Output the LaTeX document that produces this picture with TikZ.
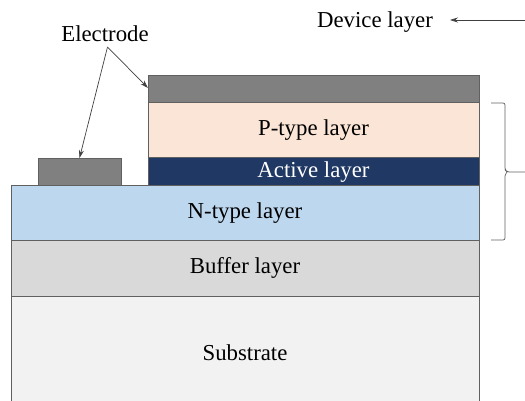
\documentclass[tikz,border=0pt]{standalone}
\usepackage{fontspec}
\setmainfont{Liberation Serif}
\usetikzlibrary{arrows.meta}
\definecolor{elec}{HTML}{808080}
\definecolor{ptype}{HTML}{FBE5D6}
\definecolor{active}{HTML}{203864}
\definecolor{ntype}{HTML}{BDD7EE}
\definecolor{buffer}{HTML}{D9D9D9}
\definecolor{subst}{HTML}{F2F2F2}
\definecolor{edge}{HTML}{606060}
\definecolor{arrowc}{HTML}{404040}
\tikzset{
  layer/.style={draw=edge, line width=0.9pt, inner sep=0pt, anchor=north west},
  lbl/.style={font=\fontsize{22.8}{26}\selectfont, inner sep=0pt},
  ptr/.style={draw=arrowc, line width=0.7pt, -{Stealth[length=8pt,width=5pt]}},
  brace/.style={draw=edge, line width=0.7pt}
}
\begin{document}
\begin{tikzpicture}[x=1pt,y=-1pt]
\useasboundingbox (0,0) rectangle (525,401);
% layers
\node[layer, fill=subst, minimum width=468pt, minimum height=115pt] (sub) at (11,296) {};
\node[lbl] (subtxt) at (245,353) {Substrate};
\node[layer, fill=buffer, minimum width=468pt, minimum height=56pt] (buf) at (11,240) {};
\node[lbl] (buftxt) at (245,268) {Buffer layer};
\node[layer, fill=ntype, minimum width=468pt, minimum height=55pt] (nt) at (11,185) {};
\node[lbl] (nttxt) at (245,213) {N-type layer};
\node[layer, fill=active, minimum width=331pt, minimum height=28pt] (act) at (148,157) {};
\node[lbl, text=white] (acttxt) at (313.5,172) {Active layer};
\node[layer, fill=ptype, minimum width=331pt, minimum height=55pt] (pt) at (148,102) {};
\node[lbl] (pttxt) at (313.5,130) {P-type layer};
\node[layer, fill=elec, minimum width=331pt, minimum height=27pt] (topel) at (148,75) {};
\node[layer, fill=elec, minimum width=83pt, minimum height=27.5pt] (leftel) at (38,158) {};
% labels
\node[lbl] (eltxt) at (105,34) {Electrode};
\node[lbl] (devtxt) at (375,22) {Device layer};
\coordinate (elsrc) at (107.5,47);
\coordinate (eltipl) at (79.5,158);
\coordinate (eltipr) at (148,88);
\coordinate (devsrc) at (525,20);
\coordinate (devtip) at (450,20);
\draw[ptr] (elsrc) -- (eltipl);
\draw[ptr] (elsrc) -- (eltipr);
\draw[ptr] (devsrc) -- (devtip);
% brace
\coordinate (btop) at (491,103);
\coordinate (bbot) at (491,240);
\coordinate (btip) at (525,172);
\draw[brace, rounded corners=2pt] (btop) -- (505,103) -- (505,170) -- (507,172) -- (btip);
\draw[brace, rounded corners=2pt] (bbot) -- (505,240) -- (505,174) -- (507,172);
\end{tikzpicture}
\end{document}
